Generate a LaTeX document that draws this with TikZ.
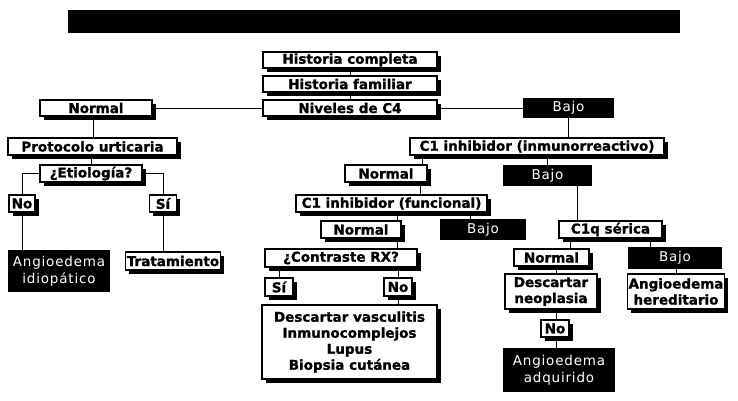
\documentclass[tikz,border=0pt]{standalone}
\usepackage{fontspec}
\newfontfamily\cajafont[FakeBold=1.3]{DejaVu Sans Bold}
\newfontfamily\negrafont[LetterSpace=6]{DejaVu Sans}
\usetikzlibrary{shadows}

\tikzset{
  caja/.style={draw, line width=1.2pt, fill=white, inner sep=1pt, align=center,
    font=\fontsize{13.5}{16}\selectfont\cajafont,
    drop shadow={shadow xshift=3.5pt,shadow yshift=-3.5pt,fill=black,opacity=1}},
  negra/.style={fill=black, text=white, inner sep=1pt, align=center,
    font=\fontsize{13.5}{17}\selectfont\negrafont},
  tam/.style 2 args={minimum width=#1, minimum height=#2},
  linea/.style={line width=1pt}
}

\begin{document}
\begin{tikzpicture}[x=1pt,y=-1pt]

\useasboundingbox (0,0) rectangle (738,400);

% barra del titulo
\fill (68,10) rectangle (680,33);

% columna central
\node [caja, tam={174}{16}] (hc) at (350,60) {Historia completa};
\node [caja, tam={174}{16}] (hf) at (350,84) {Historia familiar};
\node [caja, tam={174}{16}] (nc4) at (350,108) {Niveles de C4};

% rama normal
\node [caja, tam={112}{16}] (nl) at (96,108) {Normal};
\node [caja, tam={169}{17}] (pu) at (92.5,146.5) {Protocolo urticaria};
\node [caja, tam={102}{17}] (et) at (91,173.5) {¿Etiología?};
\node [caja, tam={26}{17}] (nol) at (22,203.5) {No};
\node [caja, tam={27}{17}] (sil) at (163,203.5) {Sí};
\node [negra, tam={102}{42}] (ai) at (59,271) {Angioedema\\idiopático};
\node [caja, tam={89}{18}] (tr) at (173,261) {Tratamiento};

% rama bajo
\node [negra, tam={91}{20}] (bt) at (568.5,108) {Bajo};
\node [caja, tam={254}{17}] (c1i) at (537,146.5) {C1 inhibidor (inmunorreactivo)};
\node [caja, tam={82}{17}] (nm) at (386,173.5) {Normal};
\node [negra, tam={89}{21}] (bm) at (547.5,175.5) {Bajo};
\node [caja, tam={191}{17}] (c1f) at (391.5,203.5) {C1 inhibidor (funcional)};
\node [caja, tam={80}{17}] (nlo) at (361,229.5) {Normal};
\node [negra, tam={86}{21}] (bf) at (483,229.5) {Bajo};
\node [caja, tam={152}{18}] (cx) at (341,258) {¿Contraste RX?};
\node [caja, tam={28}{18}] (si) at (279,287) {Sí};
\node [caja, tam={28}{18}] (no) at (398,287) {No};
\node [caja, tam={175}{74}] (dv) at (349.5,342)
  {Descartar vasculitis\\Inmunocomplejos\\Lupus\\Biopsia cutánea};

% C1q
\node [caja, tam={103}{17}] (c1q) at (610.5,229.5) {C1q sérica};
\node [caja, tam={75}{17}] (nr) at (551.5,257.5) {Normal};
\node [negra, tam={94}{22}] (br) at (675,258) {Bajo};
\node [caja, tam={92}{35}] (dn) at (551,291.5) {Descartar\\neoplasia};
\node [caja, tam={92}{35}] (ah) at (676,291.5) {Angioedema\\hereditario};
\node [caja, tam={28}{17}] (nor) at (555,328.5) {No};
\node [negra, tam={112}{44}] (aa) at (559,370) {Angioedema\\adquirido};

% conectores
\draw [linea] (hc.south) -- (hf.north);
\draw [linea] (hf.south) -- (nc4.north);
\draw [linea] (nc4.west) -- (nl.east);
\draw [linea] (nc4.east) -- (bt.west);

\draw [linea] (nl.south -| 93,0) -- (pu.north -| 93,0);
\draw [linea] (pu.south -| 91,0) -- (et.north -| 91,0);
\draw [linea] (et.west) -| (nol.north);
\draw [linea] (et.east) -| (sil.north);
\draw [linea] (nol.south) -- (ai.north -| nol.south);
\draw [linea] (sil.south) -- (tr.north -| sil.south);

\draw [linea] (bt.south) -- (c1i.north -| bt.south);
\draw [linea] (c1i.south -| 422,0) -- (nm.north -| 422,0);
\draw [linea] (c1i.south -| bm.north) -- (bm.north);
\draw [linea] (bm.south -| 577,0) -- (c1q.north -| 577,0);
\draw [linea] (nm.south -| 420,0) -- (c1f.north -| 420,0);
\draw [linea] (c1f.south -| 397,0) -- (nlo.north -| 397,0);
\draw [linea] (c1f.south -| 470,0) -- (bf.north -| 470,0);
\draw [linea] (nlo.south -| 397,0) -- (cx.north -| 397,0);
\draw [linea] (cx.south -| si.north) -- (si.north);
\draw [linea] (cx.south -| no.north) -- (no.north);
\draw [linea] (no.south) -- (dv.north -| no.south);

\draw [linea] (c1q.south -| 570,0) -- (nr.north -| 570,0);
\draw [linea] (c1q.south -| 650,0) -- (br.north -| 650,0);
\draw [linea] (nr.south -| 556,0) -- (dn.north -| 556,0);
\draw [linea] (br.south -| ah.north) -- (ah.north);
\draw [linea] (dn.south -| 556,0) -- (nor.north -| 556,0);
\draw [linea] (nor.south -| 556,0) -- (aa.north -| 556,0);

\end{tikzpicture}
\end{document}
